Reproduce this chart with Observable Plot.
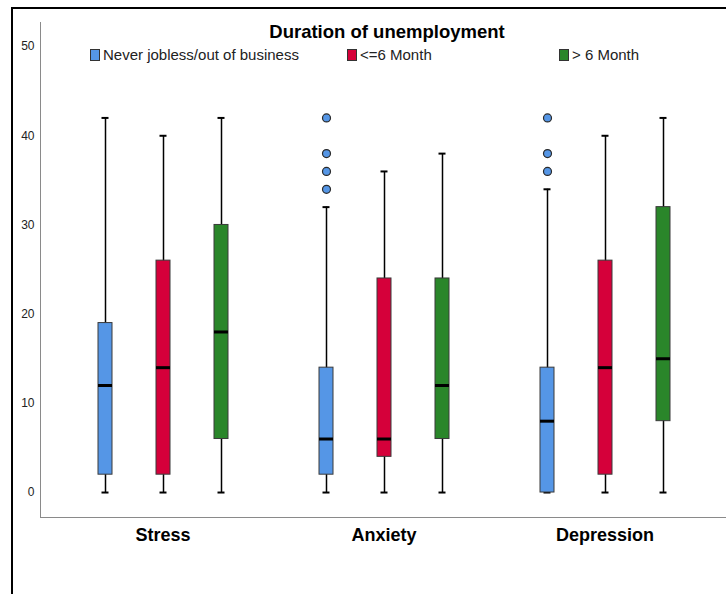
<!DOCTYPE html>
<html>
<head>
<meta charset="utf-8">
<script src="https://cdn.jsdelivr.net/npm/d3@7"></script>
<script src="https://cdn.jsdelivr.net/npm/@observablehq/plot@0.6"></script>
<style>
  html, body { margin: 0; padding: 0; background: #fff; overflow: hidden; }
  #wrap { position: relative; width: 726px; height: 594px; overflow: hidden; font-family: "Liberation Sans", Arial, sans-serif; }
  #frame { position: absolute; left: 11px; top: 7px; width: 900px; height: 900px; border: 2px solid #000; box-sizing: border-box; pointer-events: none; }
  #chart { position: absolute; left: 0; top: 0; }
  #title { position: absolute; left: 387px; top: 21px; transform: translateX(-50%); font-weight: bold; font-size: 18.5px; color: #000; white-space: nowrap; line-height: 22px; }
  .key { position: absolute; top: 47px; display: flex; align-items: center; font-size: 15px; color: #222; white-space: nowrap; line-height: 16px; }
  .sw { width: 10px; height: 12px; border: 1px solid #333; margin-right: 3px; box-sizing: border-box; }
  svg [aria-label^="fx-axis"] text { font-size: 18px; font-weight: bold; fill: #000; }
  svg [aria-label^="y-axis"] text { font-size: 12px; fill: #222; }
</style>
</head>
<body>
<div id="wrap">
  <div id="chart"></div>
  <div id="frame"></div>
  <div id="title">Duration of unemployment</div>
  <div id="legend"></div>
</div>
<script>
// Score scales and unemployment-duration groups
const measures = ["Stress", "Anxiety", "Depression"];
const groups = ["Never jobless/out of business", "<=6 Month", "> 6 Month"];
const colors = ["#5596e6", "#d5003a", "#2a862a"];
const yTicks = [0, 10, 20, 30, 40, 50];

// Box-plot statistics: one row per measure, one column per group
const lower  = [[0, 0, 0], [0, 0, 0], [0, 0, 0]];
const q1     = [[2, 2, 6], [2, 4, 6], [0, 2, 8]];
const median = [[12, 14, 18], [6, 6, 12], [8, 14, 15]];
const q3     = [[19, 26, 30], [14, 24, 24], [14, 26, 32]];
const upper  = [[42, 40, 42], [32, 36, 38], [34, 40, 42]];

// Outliers (all in the "never jobless" group)
const anxietyOutliers = [42, 38, 36, 34];
const depressionOutliers = [42, 38, 36];

const rows = measures.flatMap((m, i) => groups.map((g, j) => ({
  measure: m, group: g,
  lo: lower[i][j], q1: q1[i][j], med: median[i][j], q3: q3[i][j], hi: upper[i][j]
})));
const outliers = [
  ...anxietyOutliers.map(v => ({measure: "Anxiety", group: groups[0], value: v})),
  ...depressionOutliers.map(v => ({measure: "Depression", group: groups[0], value: v}))
];

const W = 726, H = 594, ML = 40, MT = 22, MB = 77;

const plot = Plot.plot({
  width: W,
  height: H,
  marginLeft: ML,
  marginRight: 0,
  marginTop: MT,
  marginBottom: MB,
  style: {fontFamily: "'Liberation Sans', Arial, sans-serif", background: "transparent", overflow: "visible"},
  fx: {domain: measures, paddingInner: 0, paddingOuter: 0.0486, label: null, tickSize: 0, tickPadding: 11, axis: "bottom"},
  x: {domain: groups, paddingInner: 0, paddingOuter: 0.377, axis: null},
  y: {domain: [-2.8, 52.7], ticks: yTicks, tickSize: 0, tickPadding: 6, label: null, grid: false},
  color: {domain: groups, range: colors},
  marks: [
    Plot.ruleX(rows, {fx: "measure", x: "group", y1: "lo", y2: "hi", stroke: "#000", strokeWidth: 1.5}),
    Plot.tickY(rows, {fx: "measure", x: "group", y: "hi", stroke: "#000", strokeWidth: 2, insetLeft: 25.5, insetRight: 25.5}),
    Plot.tickY(rows, {fx: "measure", x: "group", y: "lo", stroke: "#000", strokeWidth: 2, insetLeft: 25.5, insetRight: 25.5}),
    Plot.barY(rows, {fx: "measure", x: "group", y1: "q1", y2: "q3", fill: "group", stroke: "#3a3a3a", strokeWidth: 1, insetLeft: 22, insetRight: 22}),
    Plot.tickY(rows, {fx: "measure", x: "group", y: "med", stroke: "#000", strokeWidth: 3, insetLeft: 22, insetRight: 22}),
    Plot.dot(outliers, {fx: "measure", x: "group", y: "value", r: 4, fill: "group", stroke: "#2a2a2a", strokeWidth: 1.2})
  ]
});

const svg = d3.select(plot);

// Keep the y tick labels clear of the axis line
svg.selectAll('[aria-label^="y-axis"]').each(function () {
  const g = d3.select(this);
  const t = g.attr("transform") || "";
  g.attr("transform", t + " translate(-12,0)");
});

// Axis lines: left edge and baseline of the plotting area
const yBottom = H - MB;
svg.append("line").attr("x1", ML + 0.5).attr("x2", ML + 0.5).attr("y1", MT).attr("y2", yBottom)
  .attr("stroke", "#8a8a8a").attr("stroke-width", 1);
svg.append("line").attr("x1", ML).attr("x2", W).attr("y1", yBottom + 0.5).attr("y2", yBottom + 0.5)
  .attr("stroke", "#8a8a8a").attr("stroke-width", 1);

document.getElementById("chart").appendChild(plot);

// Legend keys
const keyLeft = [90, 347, 559];
const legend = document.getElementById("legend");
groups.forEach((g, i) => {
  const item = document.createElement("div");
  item.className = "key";
  item.style.left = keyLeft[i] + "px";
  const sw = document.createElement("div");
  sw.className = "sw";
  sw.style.background = colors[i];
  const label = document.createElement("span");
  label.textContent = g;
  item.appendChild(sw);
  item.appendChild(label);
  legend.appendChild(item);
});
</script>
</body>
</html>
